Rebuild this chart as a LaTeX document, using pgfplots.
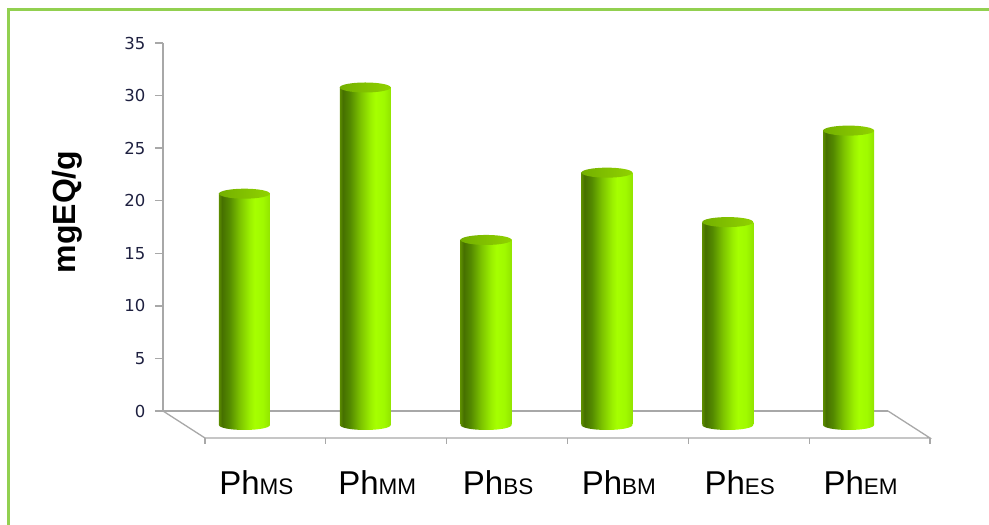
\documentclass[border=0pt]{standalone}
\usepackage{fontspec}
\setmainfont{Liberation Sans}
\newfontfamily\tickfont{DejaVu Sans}
\usepackage{pgfplots}
\pgfplotsset{compat=1.18}

\definecolor{framegreen}{RGB}{146,208,80}
\definecolor{floorgray}{RGB}{168,168,168}
\definecolor{ticktext}{RGB}{30,32,64}
\definecolor{topL}{RGB}{116,176,0}
\definecolor{topR}{RGB}{144,210,0}
\definecolor{cA}{RGB}{92,140,0}
\definecolor{cB}{RGB}{70,112,0}
\definecolor{cC}{RGB}{84,138,0}
\definecolor{cD}{RGB}{124,194,0}
\definecolor{cE}{RGB}{155,240,0}
\definecolor{cF}{RGB}{166,255,0}
\definecolor{cG}{RGB}{160,250,0}
\definecolor{cH}{RGB}{146,228,0}

% side of a cylinder: dark on the left, bright lime towards the right
\pgfdeclarehorizontalshading{cylside}{100bp}{%
  color(0bp)=(cA); color(25bp)=(cA); color(28bp)=(cB); color(35bp)=(cC);
  color(45bp)=(cD); color(55bp)=(cE); color(60bp)=(cF); color(68bp)=(cG);
  color(75bp)=(cH); color(100bp)=(cH)}

% lid and rounded foot of a cylinder
\pgfdeclareplotmark{cyltop}{%
  \shade[draw=none, left color=topL, right color=topR] (0pt,0pt) ellipse [x radius=25.5pt, y radius=5pt];}
\pgfdeclareplotmark{cylbot}{%
  \shade[draw=none, shading=cylside] (-25.5pt,0pt) arc[start angle=180, end angle=360, x radius=25.5pt, y radius=5pt] -- cycle;}

\pgfplotsset{
  cylbody/.style={ybar, bar width=51pt, bar shift=0pt, draw=none, shade, shading=cylside, xshift=21pt, yshift=-14pt},
  cylmarks/.style={only marks, draw=none, mark=#1, xshift=21pt, yshift=-14pt},
}

\begin{document}
\begin{tikzpicture}[x=1pt,y=1pt]
\useasboundingbox (0,0) rectangle (989,525);
\draw[framegreen, line width=3pt] (8,-2) -- (8,515) -- (992,515);

\begin{axis}[
  at={(163pt,114pt)}, anchor=south west,
  scale only axis, width=725pt, height=368pt,
  xmin=0, xmax=6, ymin=0, ymax=35,
  clip=false,
  axis lines*=left,
  axis line style={floorgray, line width=1.3pt},
  ytick={0,5,...,35},
  xtick={0.5,1.5,...,5.5},
  xticklabels={%
    Ph{\fontsize{22.5}{26}\selectfont MS},
    Ph{\fontsize{22.5}{26}\selectfont MM},
    Ph{\fontsize{22.5}{26}\selectfont BS},
    Ph{\fontsize{22.5}{26}\selectfont BM},
    Ph{\fontsize{22.5}{26}\selectfont ES},
    Ph{\fontsize{22.5}{26}\selectfont EM}},
  x tick style={draw=none},
  y tick style={floorgray, line width=1.3pt},
  tick align=outside,
  major tick length=8pt,
  /pgf/number format/assume math mode=true,
  yticklabel style={font=\tickfont\fontsize{16.5}{19}\selectfont, text=ticktext, xshift=-6pt},
  xticklabel style={font=\fontsize{33}{38}\selectfont, text=black, anchor=base, xshift=33pt, yshift=-75pt},
  ylabel={mgEQ/g},
  ylabel style={font=\fontsize{32}{38}\selectfont\bfseries, at={(axis description cs:-0.132,0.541)}, anchor=center},
]
% floor of the chart
\draw[floorgray, line width=1.3pt] (axis cs:0,0) -- ([xshift=42pt,yshift=-27pt]axis cs:0,0)
  -- ([xshift=42pt,yshift=-27pt]axis cs:6,0) -- (axis cs:6,0);
\pgfplotsinvokeforeach{0,1,2,3,4,5,6}{%
  \draw[floorgray, line width=1.3pt] ([xshift=42pt,yshift=-27pt]axis cs:#1,0) -- ++(0pt,-6pt);}

% cylinders stand halfway into the floor depth
\addplot[cylmarks=cylbot]
  coordinates {(0.5,0) (1.5,0) (2.5,0) (3.5,0) (4.5,0) (5.5,0)};
\addplot[cylbody] coordinates {(0.5,22.0)};
\addplot[cylbody] coordinates {(1.5,32.1)};
\addplot[cylbody] coordinates {(2.5,17.6)};
\addplot[cylbody] coordinates {(3.5,24.0)};
\addplot[cylbody] coordinates {(4.5,19.3)};
\addplot[cylbody] coordinates {(5.5,28.0)};
\addplot[cylmarks=cyltop]
  coordinates {(0.5,22.0) (1.5,32.1) (2.5,17.6) (3.5,24.0) (4.5,19.3) (5.5,28.0)};
\end{axis}
\end{tikzpicture}
\end{document}
